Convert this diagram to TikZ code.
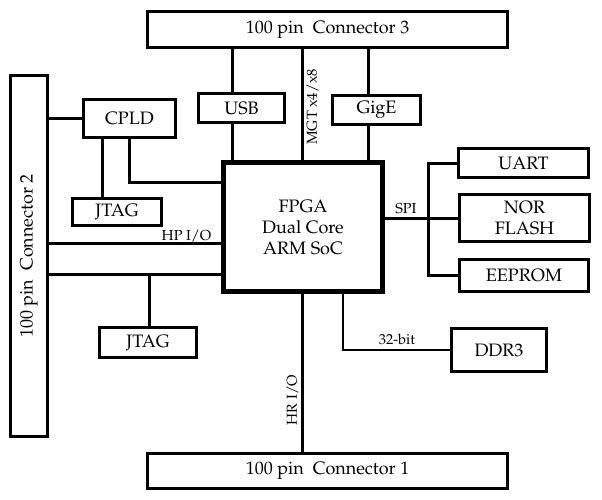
\documentclass[tikz,border=0pt]{standalone}
\usepackage[T1]{fontenc}
\usepackage{mathpazo}
\begin{document}
\begin{tikzpicture}[x=1pt,y=-1pt,
  box/.style={draw, line width=3pt, inner sep=0pt, font=\fontsize{18}{21}\selectfont, align=center},
  wire/.style={line width=3pt},
  thin wire/.style={line width=2.2pt},
  lbl/.style={inner sep=0pt, font=\fontsize{14.5}{16}\selectfont}]
\useasboundingbox (0,0) rectangle (602,499);
% boxes
\node[box, minimum width=360pt, minimum height=36pt] (con3) at (327.5,29.5) {100 pin~ Connector 3};
\node[box, minimum width=360pt, minimum height=35pt] (con1) at (327.5,471) {100 pin~ Connector 1};
\node[box, minimum width=37pt, minimum height=361pt] (con2) at (29,256) {};
\node[inner sep=0pt, rotate=90, font=\fontsize{18}{21}\selectfont] (con2t) at (con2.center) {100 pin~ Connector 2};
\node[box, minimum width=92pt, minimum height=38pt] (cpld) at (129.5,118.5) {CPLD};
\node[box, minimum width=89pt, minimum height=27pt] (jtag1) at (117,212) {JTAG};
\node[box, minimum width=86pt, minimum height=29pt] (usb) at (241.5,108) {USB};
\node[box, minimum width=88pt, minimum height=29pt] (gige) at (376.5,110) {GigE};
\node[box, line width=5pt, minimum width=159pt, minimum height=129pt] (fpga) at (303,227) {FPGA\\Dual Core\\ARM SoC};
\node[box, minimum width=130pt, minimum height=29pt] (uart) at (523.5,163) {UART};
\node[box, minimum width=130pt, minimum height=47pt] (nor) at (524.5,218) {NOR\\FLASH};
\node[box, minimum width=129pt, minimum height=32pt] (eeprom) at (524,275.5) {EEPROM};
\node[box, minimum width=97pt, minimum height=30pt] (jtag2) at (148,342.5) {JTAG};
\node[box, minimum width=95pt, minimum height=43pt] (ddr3) at (499,350) {DDR3};
% helper coordinates
\coordinate (xusb) at (232,0);
\coordinate (xmgt) at (302,0);
\coordinate (xgig) at (368,0);
\coordinate (xcj) at (102,0);
\coordinate (xcf) at (129,0);
\coordinate (ycf) at (0,182);
\coordinate (yhp) at (0,243);
\coordinate (ylo) at (0,274);
\coordinate (xjt) at (149,0);
\coordinate (xbus) at (428,0);
\coordinate (xhr) at (302,0);
\coordinate (xdd) at (343,0);
% connectors
\draw[wire] (con3.south -| xusb) -- (usb.north -| xusb);
\draw[wire] (usb.south -| xusb) -- (fpga.north -| xusb);
\draw[wire] (con3.south -| xmgt) -- (fpga.north -| xmgt);
\draw[wire] (con3.south -| xgig) -- (gige.north -| xgig);
\draw[wire] (gige.south -| xgig) -- (fpga.north -| xgig);
\draw[wire] (con2.east |- cpld.west) -- (cpld.west);
\draw[wire] (cpld.south -| xcj) -- (jtag1.north -| xcj);
\draw[wire] (cpld.south -| xcf) -- (xcf |- ycf) -- (fpga.west |- ycf);
\draw[wire] (con2.east |- yhp) -- (fpga.west |- yhp);
\draw[wire] (con2.east |- ylo) -- (fpga.west |- ylo);
\draw[wire] (xjt |- ylo) -- (jtag2.north -| xjt);
\draw[wire] (fpga.east |- nor.west) -- (nor.west);
\draw[wire] (uart.west) -- (xbus |- uart.west) -- (xbus |- eeprom.west) -- (eeprom.west);
\draw[wire] (fpga.south -| xhr) -- (con1.north -| xhr);
\draw[thin wire] (fpga.south -| xdd) -- (xdd |- ddr3.west) -- (ddr3.west);
% labels
\node[lbl, rotate=90] (mgt) at (312.5,107) {MGT x4/x8};
\node[lbl] (hp) at (186.5,236) {HP I/O};
\node[lbl] (spi) at (406,209) {SPI};
\node[lbl, rotate=90] (hr) at (292.5,400) {HR I/O};
\node[lbl] (b32) at (397,339) {32-bit};
\end{tikzpicture}
\end{document}
